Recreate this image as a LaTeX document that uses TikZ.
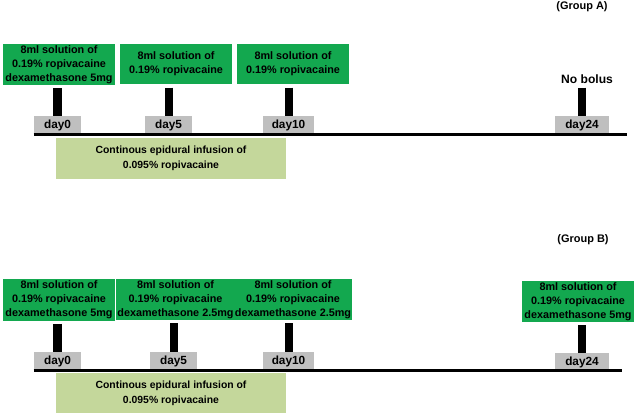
\documentclass[tikz,border=0pt]{standalone}
\usepackage{fontspec}
\setmainfont{Liberation Sans}
\usepackage{xcolor}
\usetikzlibrary{positioning}

\definecolor{bolusgreen}{HTML}{13A84F}
\definecolor{daygray}{HTML}{BFBFBF}
\definecolor{infgreen}{HTML}{C4D79B}

\begin{document}
\begin{tikzpicture}[
  x=0.025cm, y=-0.025cm,
  font=\fontsize{7.7}{10}\selectfont\bfseries,
  bolus/.style={fill=bolusgreen, draw=none, minimum width=2.8cm, minimum height=1.02cm, align=center, inner sep=1pt},
  day/.style={fill=daygray, draw=none, minimum width=1.18cm, minimum height=0.46cm, inner sep=1pt, font=\fontsize{8.4}{10}\selectfont\bfseries},
  infusion/.style={fill=infgreen, draw=none, minimum width=5.75cm, minimum height=1.02cm, align=center, font=\fontsize{7.4}{10.4}\selectfont\bfseries},
  stem/.style={line width=0.2cm, draw=black, shorten <=0.075cm},
  axis/.style={line width=0.075cm, draw=black},
  group/.style={font=\fontsize{7.8}{9}\selectfont\bfseries}
]
\useasboundingbox (0,0) rectangle (638,418);

% Group A
\node[group] (grpA) at (582,7) {(Group A)};
\node[bolus] (bA1) at (59,64.5) {8ml solution of\\0.19\% ropivacaine\\dexamethasone 5mg};
\node[bolus] (bA2) at (176,64) {8ml solution of\\0.19\% ropivacaine};
\node[bolus] (bA3) at (293,64) {8ml solution of\\0.19\% ropivacaine};
\node[font=\fontsize{8.6}{10}\selectfont\bfseries] (nob) at (587,79) {No bolus};

\node[day] (dA1) at (57.5,125) {day0};
\node[day] (dA2) at (168.5,125) {day5};
\node[day, minimum width=1.28cm] (dA3) at (288.5,125) {day10};
\node[day, minimum width=1.35cm] (dA4) at (582,125) {day24};

\coordinate (endA) at (627,135);
\draw[axis] (dA1.south west) -- (dA1.south west -| endA);
\node[infusion] (infA) at (171,158.5) {Continous epidural infusion of\\0.095\% ropivacaine};

\draw[stem] (dA1.north |- bA1.south) -- (dA1.north);
\draw[stem] (dA2.north |- bA2.south) -- (dA2.north);
\draw[stem] (dA3.north |- bA3.south) -- (dA3.north);
\draw[stem] (dA4.north |- bA3.south) -- (dA4.north);

% Group B
\node[group] (grpB) at (583,240) {(Group B)};
\node[bolus] (bB1) at (59,300) {8ml solution of\\0.19\% ropivacaine\\dexamethasone 5mg};
\node[bolus] (bB2) at (175.5,299.5) {8ml solution of\\0.19\% ropivacaine\\dexamethasone 2.5mg};
\node[bolus] (bB3) at (293,299.5) {8ml solution of\\0.19\% ropivacaine\\dexamethasone 2.5mg};
\node[bolus] (bB4) at (578,301.5) {8ml solution of\\0.19\% ropivacaine\\dexamethasone 5mg};

\node[day] (dB1) at (57.5,361) {day0};
\node[day] (dB2) at (173.5,361) {day5};
\node[day, minimum width=1.28cm] (dB3) at (288.5,361) {day10};
\node[day, minimum width=1.35cm] (dB4) at (582,362.5) {day24};

\coordinate (endB) at (622,372);
\draw[axis] (dB1.south west) -- (dB1.south west -| endB);
\node[infusion] (infB) at (171,393) {Continous epidural infusion of\\0.095\% ropivacaine};

\draw[stem] (dB1.north |- bB1.south) -- (dB1.north);
\draw[stem] (dB2.north |- bB2.south) -- (dB2.north);
\draw[stem] (dB3.north |- bB3.south) -- (dB3.north);
\draw[stem] (dB4.north |- bB4.south) -- (dB4.north);
\end{tikzpicture}
\end{document}
